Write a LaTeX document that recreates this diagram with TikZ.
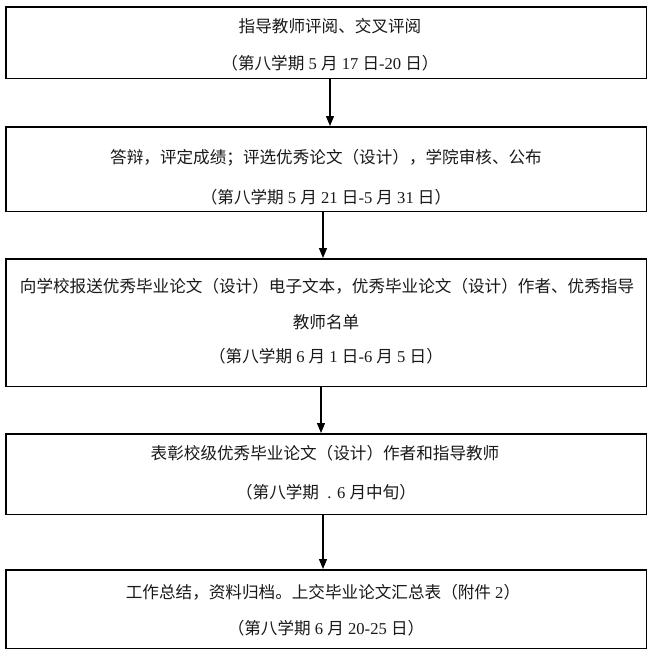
\documentclass[tikz,border=0pt]{standalone}
\usepackage{fontspec}
\setmainfont{Noto Sans CJK SC}
\newfontfamily\latfam{Liberation Serif}
\newcommand\lat[1]{{\latfam #1}}
\usetikzlibrary{arrows.meta}
\begin{document}
\begin{tikzpicture}[x=1pt,y=-1pt,
  box/.style={draw=black,line width=1.5pt,minimum width=640.5pt,inner sep=0pt},
  lbl/.style={inner sep=0pt,text=black!90,font=\fontsize{16.6}{20}\selectfont},
  arr/.style={draw=black,line width=1.3pt,-{Triangle[length=10pt,width=8pt]}}]
\useasboundingbox[fill=white] (0,0) rectangle (655,653);
% boxes
\node[box,minimum height=71.5pt] (b1) at (326,42.5) {};
\node[box,minimum height=84.5pt] (b2) at (326,169) {};
\node[box,minimum height=127.5pt] (b3) at (326,322.5) {};
\node[box,minimum height=80.5pt] (b4) at (326,474) {};
\node[box,minimum height=78.5pt] (b5) at (326,609) {};
% texts
\node[lbl] (t1a) at (330,26) {指导教师评阅、交叉评阅};
\node[lbl] (t1b) at (330,63) {（第八学期\lat{ 5 }月\lat{ 17 }日\lat{-20 }日）};
\node[lbl] (t2a) at (326,158) {答辩，评定成绩；评选优秀论文（设计），学院审核、公布};
\node[lbl] (t2b) at (326,197) {（第八学期\lat{ 5 }月\lat{ 21 }日\lat{-5 }月\lat{ 31 }日）};
\node[lbl] (t3a) at (327,286) {向学校报送优秀毕业论文（设计）电子文本，优秀毕业论文（设计）作者、优秀指导};
\node[lbl] (t3b) at (326,322) {教师名单};
\node[lbl] (t3c) at (326,356) {（第八学期\lat{ 6 }月\lat{ 1 }日\lat{-6 }月\lat{ 5 }日）};
\node[lbl] (t4a) at (325,453) {表彰校级优秀毕业论文（设计）作者和指导教师};
\node[lbl] (t4b) at (326,492) {（第八学期\lat{\ \ . 6 }月中旬）};
\node[lbl] (t5a) at (323,592) {工作总结，资料归档。上交毕业论文汇总表（附件\lat{ 2}）};
\node[lbl] (t5b) at (326,628) {（第八学期\lat{ 6 }月\lat{ 20-25 }日）};
% arrows
\draw[arr] ([xshift=4pt]b1.south) -- ([xshift=4pt]b2.north);
\draw[arr] ([xshift=-3pt]b2.south) -- ([xshift=-3pt]b3.north);
\draw[arr] ([xshift=-5pt]b3.south) -- ([xshift=-5pt]b4.north);
\draw[arr] ([xshift=-3pt]b4.south) -- ([xshift=-3pt]b5.north);
\end{tikzpicture}
\end{document}
